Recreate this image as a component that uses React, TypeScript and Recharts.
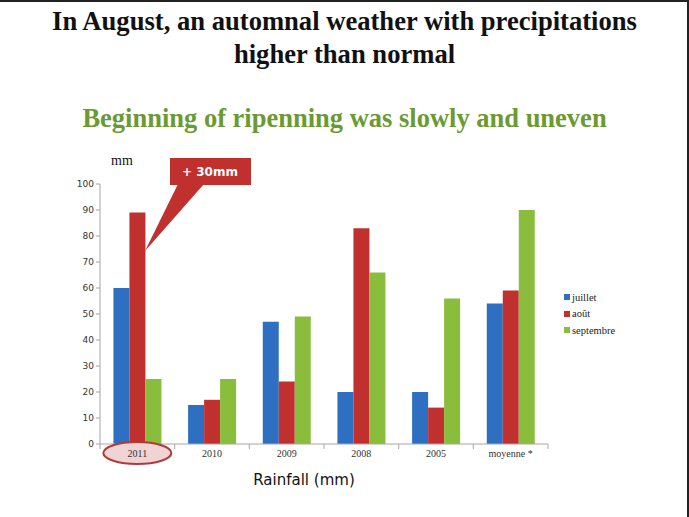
import { BarChart, Bar, XAxis, YAxis } from 'recharts';

// ─── Data ────────────────────────────────────────────────────────────────────

const years = ['2011', '2010', '2009', '2008', '2005', 'moyenne *'];
const juillet = [60, 15, 47, 20, 20, 54];
const aout = [89, 17, 24, 83, 14, 59];
const septembre = [25, 25, 49, 66, 56, 90];
const yTicks = [0, 10, 20, 30, 40, 50, 60, 70, 80, 90, 100];

const seriesNames = ['juillet', 'août', 'septembre'];
const seriesKeys = ['juillet', 'aout', 'septembre'];
const seriesColors = ['#2f6fc2', '#c0302f', '#8bbd3c'];

const rows = years.map((y, i) => ({
  year: y,
  juillet: juillet[i],
  aout: aout[i],
  septembre: septembre[i],
}));

const W = 689;
const H = 517;
const AXIS = '#a6a6a6';

// category tick: label, boundary tick marks, ellipse round the highlighted year
function YearTick(props: any) {
  const { x, y, payload, index } = props;
  const half = payload.offset ?? 0;
  const last = index === years.length - 1;
  return (
    <g>
      <line x1={x - half} y1={y - 8} x2={x - half} y2={y - 3} stroke={AXIS} />
      {last && <line x1={x + half} y1={y - 8} x2={x + half} y2={y - 3} stroke={AXIS} />}
      {payload.value === '2011' && (
        <ellipse cx={x} cy={y + 1} rx={34} ry={11} fill="#f0d4d4" stroke="#b03a3a" strokeWidth={2} />
      )}
      <text x={x} y={y + 5} textAnchor="middle" fontFamily="Liberation Serif" fontSize={10} fill="#333">
        {payload.value}
      </text>
    </g>
  );
}

export default function App() {
  return (
    <div
      style={{
        position: 'absolute',
        left: 0,
        top: 0,
        width: W,
        height: H,
        background: '#fff',
        overflow: 'hidden',
        borderTop: '2px solid #222',
        borderRight: '2px solid #222',
        boxSizing: 'border-box',
      }}
    >
      <div
        style={{
          position: 'absolute',
          left: 0,
          top: 3,
          width: W,
          textAlign: 'center',
          fontFamily: 'Liberation Serif',
          fontWeight: 'bold',
          fontSize: 26.6,
          lineHeight: '33px',
          color: '#111',
        }}
      >
        In August, an automnal weather with precipitations
        <br />
        higher than normal
      </div>
      <div
        style={{
          position: 'absolute',
          left: 0,
          top: 101,
          width: W,
          textAlign: 'center',
          fontFamily: 'Liberation Serif',
          fontWeight: 'bold',
          fontSize: 26.5,
          color: '#6b9a31',
        }}
      >
        Beginning of ripenning was slowly and uneven
      </div>
      <div
        style={{
          position: 'absolute',
          left: 111,
          top: 151,
          fontFamily: 'Liberation Serif',
          fontSize: 14,
          color: '#111',
        }}
      >
        mm
      </div>

      <div style={{ position: 'absolute', left: 0, top: 0 }}>
        <BarChart
          width={W}
          height={H}
          data={rows}
          margin={{ top: 182, right: 141, bottom: 45, left: 70 }}
          barCategoryGap="18%"
          barGap={0}
        >
          <XAxis
            dataKey="year"
            height={30}
            interval={0}
            axisLine={{ stroke: AXIS }}
            tickLine={false}
            tick={<YearTick />}
          />
          <YAxis
            width={30}
            domain={[0, 100]}
            ticks={yTicks}
            interval={0}
            axisLine={{ stroke: AXIS }}
            tickLine={{ stroke: AXIS }}
            tickSize={4}
            tick={{ fill: '#333', fontSize: 9, fontFamily: 'DejaVu Sans' }}
          />
          {seriesKeys.map((k, i) => (
            <Bar key={k} dataKey={k} fill={seriesColors[i]} isAnimationActive={false} />
          ))}
        </BarChart>
      </div>

      {/* legend */}
      <div style={{ position: 'absolute', left: 564, top: 287 }}>
        {seriesNames.map((n, i) => (
          <div
            key={n}
            style={{
              display: 'flex',
              alignItems: 'center',
              height: 16.5,
              fontFamily: 'Liberation Serif',
              fontSize: 10.5,
              color: '#222',
            }}
          >
            <span style={{ width: 6, height: 6, background: seriesColors[i], marginRight: 2 }} />
            {n}
          </div>
        ))}
      </div>

      {/* callout */}
      <svg style={{ position: 'absolute', left: 0, top: 0 }} width={W} height={H}>
        <polygon points="178,182 204,182 145,249" fill="#c0302f" />
        <rect x={170} y={156} width={81} height={27} fill="#c0302f" />
        <text
          x={210}
          y={174}
          textAnchor="middle"
          fontFamily="DejaVu Sans"
          fontWeight="bold"
          fontSize={12}
          fill="#fff"
        >
          + 30mm
        </text>
      </svg>

      <div
        style={{
          position: 'absolute',
          left: 0,
          width: 608,
          top: 469,
          textAlign: 'center',
          fontFamily: 'DejaVu Sans',
          fontSize: 15,
          color: '#111',
        }}
      >
        Rainfall (mm)
      </div>
    </div>
  );
}
